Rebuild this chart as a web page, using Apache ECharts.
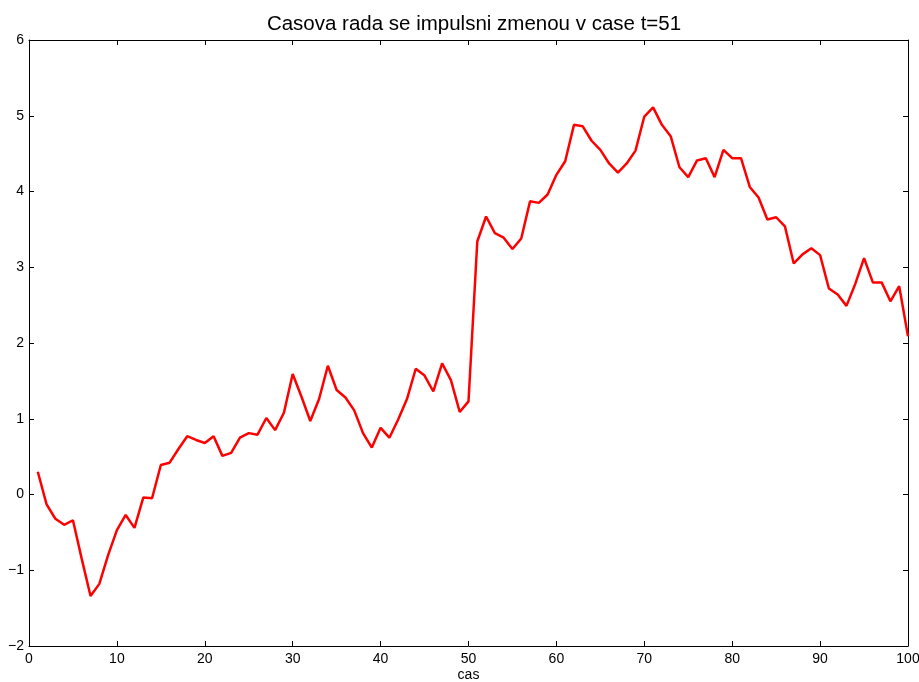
<!DOCTYPE html>
<html><head><meta charset="utf-8">
<script src="https://cdn.jsdelivr.net/npm/echarts@6/dist/echarts.min.js"></script>
<style>html,body{margin:0;padding:0;background:#fff}#c{width:919px;height:682px}</style>
</head><body><div id="c"></div>
<script>
const titleText = "Casova rada se impulsni zmenou v case t=51";
const xLabel = "cas";
const times = Array.from({length:100},(_,i)=>i+1);
const values = [
 0.30,-0.13,-0.32,-0.40,-0.34,-0.85,-1.34,-1.18,-0.80,-0.47,
 -0.27,-0.44,-0.04,-0.05,0.39,0.42,0.60,0.77,0.72,0.68,
 0.77,0.51,0.55,0.75,0.81,0.79,1.01,0.85,1.08,1.59,
 1.29,0.97,1.26,1.70,1.38,1.28,1.11,0.81,0.62,0.88,
 0.75,0.99,1.26,1.66,1.57,1.36,1.73,1.51,1.09,1.23,
 3.34,3.67,3.45,3.39,3.24,3.38,3.87,3.85,3.96,4.22,
 4.40,4.88,4.86,4.67,4.55,4.37,4.25,4.37,4.54,4.99,
 5.11,4.88,4.73,4.32,4.19,4.41,4.44,4.19,4.55,4.44,
 4.44,4.06,3.92,3.63,3.66,3.54,3.05,3.17,3.25,3.16,
 2.72,2.64,2.49,2.78,3.12,2.80,2.80,2.55,2.75,2.09
];
const xTicks = {min:0,max:100,interval:10};
const yTicks = {min:-2,max:6,interval:1};

const font = 'Liberation Sans, Arial, Helvetica, sans-serif';
const fmt = v => String(v).replace('-', '\u2212');
const chart = echarts.init(document.getElementById('c'));
const axisCommon = {
  axisLine:{show:true,onZero:false,lineStyle:{color:'#000',width:1}},
  axisTick:{show:true,inside:true,length:5,lineStyle:{color:'#000'}},
  splitLine:{show:false}
};
chart.setOption({
  animation:false,
  title:{text:titleText,left:469,textAlign:'center',top:7,
    textStyle:{fontFamily:font,fontSize:20.5,lineHeight:24,fontWeight:'normal',color:'#000'}},
  grid:{left:29,right:11,top:40,bottom:36,containLabel:false,outerBoundsMode:'none'},
  xAxis:[
    Object.assign({type:'value',position:'bottom',min:xTicks.min,max:xTicks.max,interval:xTicks.interval,
      name:xLabel,nameLocation:'middle',nameGap:22,nameMoveOverlap:false,
      nameTextStyle:{fontFamily:font,fontSize:14,color:'#000'},
      axisLabel:{fontFamily:font,fontSize:14,color:'#000',margin:6,formatter:fmt}},axisCommon),
    Object.assign({type:'value',position:'top',min:xTicks.min,max:xTicks.max,interval:xTicks.interval,
      axisLabel:{show:false}},axisCommon)
  ],
  yAxis:[
    Object.assign({type:'value',position:'left',min:yTicks.min,max:yTicks.max,interval:yTicks.interval,
      axisLabel:{fontFamily:font,fontSize:14,color:'#000',margin:5,formatter:fmt}},axisCommon),
    Object.assign({type:'value',position:'right',min:yTicks.min,max:yTicks.max,interval:yTicks.interval,
      axisLabel:{show:false}},axisCommon)
  ],
  series:[{type:'line',xAxisIndex:0,yAxisIndex:0,data:times.map((t,i)=>[t,values[i]]),
    showSymbol:false,symbol:'none',lineStyle:{color:'#ff0000',width:2.5},itemStyle:{color:'#ff0000'}}]
});
</script></body></html>
